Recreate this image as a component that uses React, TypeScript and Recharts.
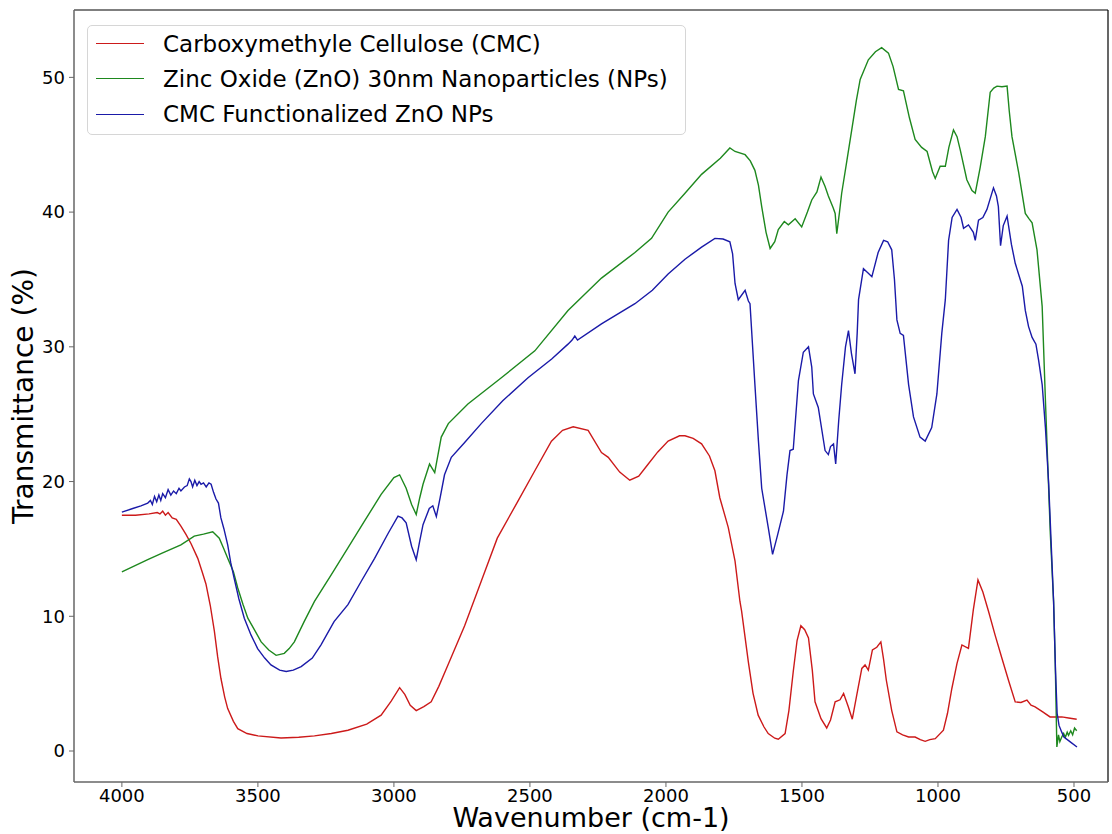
import { LineChart, Line, XAxis, YAxis, Legend, ReferenceLine } from 'recharts'

// FTIR spectra: wavenumber (cm-1) vs transmittance (%)
const wavenumberTicks = [4000, 3500, 3000, 2500, 2000, 1500, 1000, 500]
const transmittanceTicks = [0, 10, 20, 30, 40, 50]

const seriesNames = [
  'Carboxymethyle Cellulose (CMC)',
  'Zinc Oxide (ZnO) 30nm Nanoparticles (NPs)',
  'CMC Functionalized ZnO NPs',
]
const seriesColors = ['#cc1a1a', '#1e881e', '#1a1aa8']

const cmcWavenumber = [
  4000, 3950, 3900, 3870, 3860, 3850, 3840, 3830, 3815, 3800, 3783, 3765, 3746, 3721, 3705, 3691,
  3675, 3660, 3648, 3636, 3622, 3611, 3590, 3574, 3540, 3500, 3415, 3350, 3292, 3230, 3169, 3100,
  3047, 3010, 2979, 2960, 2940, 2918, 2890, 2863, 2835, 2801, 2740, 2679, 2620, 2544, 2482, 2421,
  2380, 2341, 2286, 2237, 2212, 2170, 2133, 2100, 2065, 2030, 1992, 1950, 1930, 1900, 1869, 1840,
  1820, 1802, 1771, 1746, 1728, 1722, 1697, 1680, 1661, 1640, 1624, 1600, 1587, 1562, 1548, 1532,
  1518, 1504, 1490, 1476, 1462, 1452, 1430, 1409, 1395, 1378, 1360, 1347, 1330, 1315, 1300, 1280,
  1268, 1256, 1241, 1225, 1210, 1200, 1190, 1170, 1151, 1130, 1108, 1084, 1065, 1047, 1030, 1010,
  980, 965, 949, 930, 912, 888, 870, 853, 835, 814, 790, 765, 740, 716, 695, 673,
  658, 643, 615, 588, 545, 520, 490,
]
const cmcTransmittance = [
  17.5, 17.5, 17.6, 17.7, 17.6, 17.8, 17.5, 17.7, 17.3, 17.2, 16.7, 16.1, 15.4, 14.3, 13.3, 12.4,
  10.8, 8.9, 7.0, 5.4, 4.0, 3.15, 2.2, 1.66, 1.3, 1.12, 0.97, 1.02, 1.12, 1.3, 1.54, 2.0,
  2.66, 3.7, 4.7, 4.2, 3.4, 3.0, 3.3, 3.65, 4.8, 6.4, 9.3, 12.6, 15.8, 18.55, 20.8, 23.0,
  23.8, 24.07, 23.8, 22.15, 21.8, 20.7, 20.1, 20.4, 21.3, 22.2, 23.0, 23.4, 23.4, 23.2, 22.8, 21.9,
  20.8, 18.8, 16.6, 14.1, 11.1, 10.4, 6.6, 4.3, 2.66, 1.8, 1.29, 0.95, 0.87, 1.29, 3.0, 5.9,
  8.2, 9.3, 9.0, 8.4, 6.0, 3.65, 2.4, 1.71, 2.3, 3.65, 3.8, 4.27, 3.3, 2.36, 4.0, 6.13,
  6.39, 6.0, 7.5, 7.7, 8.1, 6.8, 5.27, 3.0, 1.42, 1.2, 1.04, 1.04, 0.85, 0.72, 0.85, 0.92,
  1.54, 2.8, 4.64, 6.5, 7.87, 7.62, 10.5, 12.7, 11.8, 10.36, 8.6, 6.88, 5.2, 3.65, 3.6, 3.78,
  3.4, 3.28, 2.9, 2.53, 2.53, 2.45, 2.36,
]

const znoWavenumber = [
  4000, 3905, 3850, 3783, 3734, 3700, 3666, 3642, 3625, 3611, 3590, 3574, 3555, 3537, 3510, 3488,
  3460, 3433, 3403, 3385, 3366, 3330, 3292, 3230, 3169, 3110, 3047, 3000, 2979, 2955, 2935, 2918,
  2905, 2893, 2869, 2850, 2826, 2800, 2728, 2605, 2482, 2360, 2237, 2114, 2053, 1992, 1930, 1869,
  1800, 1765, 1746, 1709, 1690, 1673, 1660, 1648, 1632, 1617, 1600, 1587, 1565, 1550, 1525, 1501,
  1480, 1464, 1445, 1430, 1415, 1403, 1385, 1378, 1372, 1362, 1354, 1335, 1317, 1300, 1286, 1256,
  1230, 1207, 1182, 1165, 1145, 1127, 1105, 1084, 1060, 1040, 1020, 1010, 992, 973, 960, 943,
  930, 918, 894, 875, 863, 845, 826, 808, 795, 783, 765, 746, 738, 728, 703, 679,
  665, 654, 636, 617, 605, 587, 575, 569, 563, 557, 552, 545, 538, 532, 525, 520,
  512, 505, 498, 490,
]
const znoTransmittance = [
  13.3, 14.2, 14.7, 15.3, 15.95, 16.1, 16.27, 15.8, 15.0, 14.3, 13.3, 12.1, 10.9, 9.86, 8.9, 8.1,
  7.5, 7.1, 7.25, 7.6, 8.1, 9.6, 11.1, 13.1, 15.07, 17.0, 19.05, 20.3, 20.5, 19.5, 18.3, 17.56,
  18.8, 19.8, 21.3, 20.66, 23.3, 24.3, 25.76, 27.7, 29.7, 32.7, 35.1, 37.0, 38.05, 40.0, 41.4, 42.8,
  44.0, 44.76, 44.5, 44.26, 43.8, 43.1, 42.0, 40.4, 38.5, 37.3, 37.8, 38.7, 39.3, 39.05, 39.5, 38.9,
  40.0, 40.9, 41.5, 42.6, 41.9, 41.2, 40.3, 39.9, 38.4, 40.0, 41.4, 43.8, 46.1, 48.3, 49.85, 51.3,
  51.9, 52.2, 51.8, 50.8, 49.1, 49.0, 47.0, 45.4, 44.8, 44.5, 43.0, 42.5, 43.4, 43.4, 44.8, 46.1,
  45.6, 44.6, 42.4, 41.6, 41.4, 43.3, 45.6, 48.9, 49.2, 49.35, 49.3, 49.35, 47.5, 45.6, 42.9, 39.9,
  39.5, 39.2, 37.2, 33.0, 26.0, 16.1, 11.1, 6.6, 0.3, 1.2, 0.7, 1.04, 1.3, 1.0, 1.4, 1.17,
  1.5, 1.2, 1.7, 1.5,
]

const cmcZnoWavenumber = [
  4000, 3960, 3930, 3905, 3895, 3888, 3880, 3872, 3864, 3857, 3850, 3840, 3830, 3820, 3810, 3800,
  3790, 3783, 3770, 3760, 3752, 3746, 3740, 3732, 3724, 3716, 3709, 3700, 3690, 3680, 3672, 3663,
  3654, 3645, 3636, 3625, 3611, 3600, 3587, 3570, 3550, 3525, 3501, 3475, 3452, 3420, 3396, 3370,
  3341, 3300, 3268, 3220, 3169, 3120, 3071, 3020, 2985, 2970, 2955, 2935, 2918, 2905, 2893, 2870,
  2857, 2844, 2830, 2814, 2789, 2740, 2679, 2600, 2507, 2420, 2360, 2345, 2335, 2325, 2237, 2114,
  2050, 1992, 1930, 1869, 1820, 1790, 1765, 1755, 1746, 1734, 1709, 1697, 1691, 1673, 1660, 1648,
  1624, 1608, 1590, 1568, 1555, 1544, 1532, 1513, 1495, 1476, 1464, 1458, 1440, 1415, 1403, 1395,
  1384, 1376, 1365, 1354, 1340, 1329, 1318, 1305, 1297, 1292, 1274, 1258, 1243, 1220, 1200, 1185,
  1170, 1160, 1151, 1139, 1127, 1108, 1090, 1066, 1047, 1023, 1004, 986, 973, 961, 948, 930,
  915, 906, 888, 870, 863, 851, 835, 820, 808, 796, 785, 778, 770, 760, 746, 730,
  716, 690, 679, 667, 654, 640, 630, 617, 605, 593, 583, 575, 568, 562, 555, 545,
  537, 515, 489,
]
const cmcZnoTransmittance = [
  17.73, 18.0, 18.2, 18.4, 18.6, 18.3, 18.9, 18.5, 19.0, 18.6, 19.1, 18.8, 19.4, 19.0, 19.3, 19.1,
  19.5, 19.3, 19.6, 19.7, 20.2, 20.0, 19.6, 20.1, 19.7, 20.0, 19.8, 19.9, 19.6, 19.9, 19.8, 19.2,
  18.7, 18.4, 17.3, 16.5, 15.3, 14.0, 12.8, 11.3, 9.86, 8.6, 7.6, 6.9, 6.39, 6.0, 5.9, 6.0,
  6.26, 6.9, 7.88, 9.6, 10.86, 12.6, 14.3, 16.2, 17.44, 17.3, 16.94, 15.2, 14.2, 15.6, 16.8, 18.0,
  18.2, 17.4, 18.8, 20.5, 21.8, 22.9, 24.3, 26.0, 27.7, 29.1, 30.2, 30.5, 30.8, 30.5, 31.7, 33.2,
  34.2, 35.4, 36.5, 37.4, 38.05, 38.0, 37.8, 36.9, 34.7, 33.5, 34.2, 33.4, 33.2, 27.2, 23.0, 19.5,
  16.6, 14.6, 16.0, 17.8, 20.5, 22.3, 22.4, 27.5, 29.6, 30.0, 28.5, 26.5, 25.5, 22.3, 22.0, 22.6,
  22.8, 21.3, 24.5, 27.2, 30.0, 31.2, 29.5, 28.0, 31.0, 33.5, 35.8, 35.5, 35.2, 37.0, 37.9, 37.8,
  37.2, 35.0, 32.0, 31.0, 30.85, 27.2, 24.8, 23.3, 23.0, 24.0, 26.5, 31.0, 33.5, 37.9, 39.6, 40.2,
  39.6, 38.8, 39.05, 38.5, 37.9, 39.4, 39.6, 40.2, 41.0, 41.8, 41.2, 40.4, 37.5, 39.0, 39.7, 37.6,
  36.2, 34.5, 32.7, 31.5, 30.7, 30.2, 29.0, 27.2, 24.0, 19.8, 15.0, 11.1, 6.0, 2.8, 1.9, 1.4,
  1.04, 0.7, 0.3,
]

const xDomain: [number, number] = [375, 4176]
const yDomain: [number, number] = [-2.3, 55.0]

function toPoints(w: number[], t: number[]) {
  return w.map((v, i) => ({ w: v, t: t[i] }))
}

const seriesData = [
  toPoints(cmcWavenumber, cmcTransmittance),
  toPoints(znoWavenumber, znoTransmittance),
  toPoints(cmcZnoWavenumber, cmcZnoTransmittance),
]

function SpectraLegend({ payload }: { payload?: { value: string; color?: string }[] }) {
  // keep entries in the same order as the series are declared
  const entries = [...(payload ?? [])].sort(
    (a, b) => seriesNames.indexOf(a.value) - seriesNames.indexOf(b.value),
  )
  return (
    <div
      style={{
        boxSizing: 'border-box',
        width: 599,
        height: 110,
        border: '1px solid #d6d6d6',
        borderRadius: 5,
        background: 'rgba(255,255,255,0.8)',
      }}
    >
      {entries.map((p) => (
        <div key={p.value} style={{ display: 'flex', alignItems: 'center', height: 35.3 }}>
          <div style={{ marginLeft: 8, width: 48, height: 0, borderTop: `1.5px solid ${p.color}` }} />
          <span style={{ marginLeft: 19, fontSize: 23, color: '#000', whiteSpace: 'nowrap' }}>{p.value}</span>
        </div>
      ))}
    </div>
  )
}

export default function App() {
  const tickStyle = { fill: '#000', fontSize: 18 }
  return (
    <div style={{ position: 'absolute', left: 0, top: 0, fontFamily: '"DejaVu Sans", sans-serif', background: '#fff' }}>
      <LineChart width={1112} height={834} margin={{ top: 10, right: 4, bottom: 0, left: 0 }}>
        <XAxis
          dataKey="w"
          type="number"
          domain={xDomain}
          reversed
          allowDataOverflow
          ticks={wavenumberTicks}
          height={52}
          tick={tickStyle}
          tickSize={5}
          tickMargin={2}
          axisLine={{ stroke: '#666', strokeWidth: 1.5 }}
          tickLine={{ stroke: '#666' }}
          label={{ value: 'Wavenumber (cm-1)', position: 'insideBottom', offset: 7, style: { fontSize: 27, fill: '#000' } }}
        />
        <YAxis
          type="number"
          domain={yDomain}
          allowDataOverflow
          ticks={transmittanceTicks}
          width={74}
          tick={tickStyle}
          tickSize={5}
          tickMargin={4}
          axisLine={{ stroke: '#666', strokeWidth: 1.5 }}
          tickLine={{ stroke: '#666' }}
          label={{
            value: 'Transmittance (%)',
            angle: -90,
            position: 'insideLeft',
            offset: 23,
            style: { fontSize: 28, fill: '#000', textAnchor: 'middle' },
          }}
        />
        <ReferenceLine y={yDomain[1]} stroke="#000" strokeWidth={1.2} />
        <ReferenceLine x={xDomain[0]} stroke="#000" strokeWidth={1.2} />
        {seriesData.map((d, i) => (
          <Line
            key={seriesNames[i]}
            data={d}
            dataKey="t"
            name={seriesNames[i]}
            type="linear"
            stroke={seriesColors[i]}
            strokeWidth={1.4}
            dot={false}
            activeDot={false}
            isAnimationActive={false}
          />
        ))}
        <Legend
          layout="vertical"
          align="center"
          verticalAlign="middle"
          content={<SpectraLegend />}
          wrapperStyle={{ top: 25, left: 87, width: 599, height: 110 }}
        />
      </LineChart>
    </div>
  )
}
